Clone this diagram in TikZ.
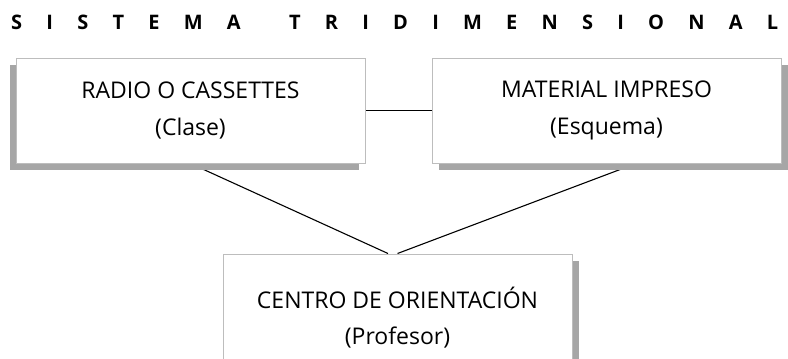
\documentclass[tikz,border=0pt]{standalone}
\usepackage{fontspec}
\setmainfont{Open Sans}
\usetikzlibrary{positioning,shadows,backgrounds}
\definecolor{boxline}{HTML}{BDBDBD}
\definecolor{shadowgray}{HTML}{A6A6A6}

\begin{document}
\begin{tikzpicture}[
  x=1pt, y=-1pt,
  box/.style={draw=boxline, fill=white, line width=1pt, inner sep=0pt,
              minimum width=349pt, minimum height=105pt, align=center,
              font=\fontsize{23}{37}\selectfont},
  shadowleft/.style={drop shadow={shadow xshift=-6.5pt, shadow yshift=-6.5pt,
              fill=shadowgray, opacity=1}},
  shadowright/.style={drop shadow={shadow xshift=6.5pt, shadow yshift=-6.5pt,
              fill=shadowgray, opacity=1}},
  conn/.style={black, line width=1.1pt},
  titletext/.style={font=\fontsize{20}{20}\bfseries\selectfont,
              inner sep=0pt, anchor=base west}
]
\useasboundingbox (0,0) rectangle (788,359);
\clip (0,0) rectangle (788,359);

% title, letters spread over the whole width
\node[titletext] (titulo) at (11,29)
  {\makebox[767pt][s]{S I S T E M A\ \ T R I D I M E N S I O N A L}};

\node[box, shadowleft] (radio) at (190.5,110.5) {RADIO O CASSETTES\\(Clase)};
\node[box, shadowright] (impreso) at (606.5,110.5) {MATERIAL IMPRESO\\(Esquema)};
\node[box, shadowright, minimum height=127pt, font=\fontsize{23}{36}\selectfont]
  (orienta) at (397.5,317.5) {CENTRO DE ORIENTACIÓN\\(Profesor)};

% connectors go under the boxes and their shadows
\begin{scope}[on background layer]
\draw[conn] (radio.east) -- (impreso.west);
\draw[conn] (radio.south) -- ([xshift=-9.5pt]orienta.north);
\draw[conn] ([xshift=29.5pt]impreso.south) -- (orienta.north);
\end{scope}
\end{tikzpicture}
\end{document}
